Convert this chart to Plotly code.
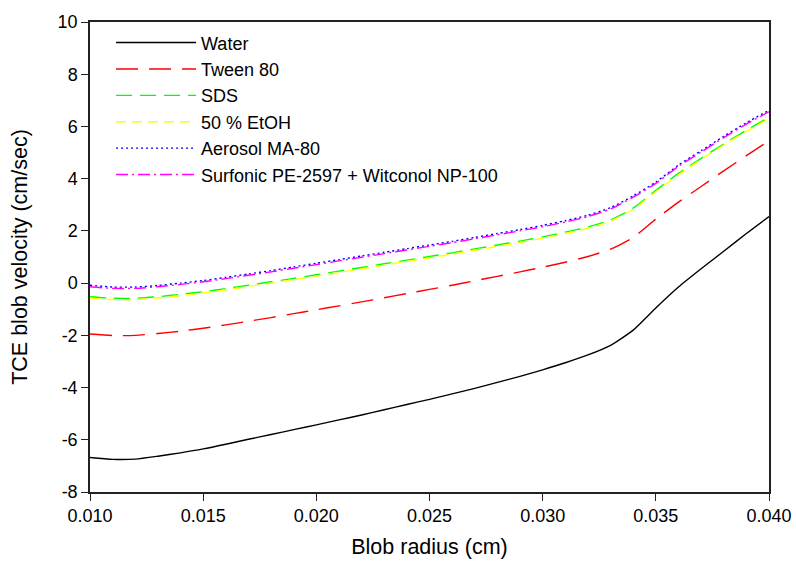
import plotly.graph_objects as go

radius = [0.010, 0.011, 0.012, 0.013, 0.014, 0.015, 0.016, 0.017, 0.018, 0.019,
          0.020, 0.021, 0.022, 0.023, 0.024, 0.025, 0.026, 0.027, 0.028, 0.029,
          0.030, 0.031, 0.032, 0.033, 0.034, 0.035, 0.036, 0.037, 0.038, 0.039, 0.040]

water = [-6.68, -6.75, -6.74, -6.63, -6.50, -6.35, -6.17, -5.98, -5.80, -5.61,
         -5.43, -5.24, -5.05, -4.85, -4.65, -4.45, -4.24, -4.03, -3.80, -3.57,
         -3.32, -3.05, -2.75, -2.38, -1.80, -0.95, -0.15, 0.55, 1.22, 1.90, 2.55]

tween80 = [-1.95, -2.01, -2.00, -1.93, -1.84, -1.73, -1.60, -1.46, -1.32, -1.17,
           -1.02, -0.87, -0.72, -0.56, -0.40, -0.24, -0.08, 0.09, 0.26, 0.43,
           0.61, 0.80, 1.02, 1.30, 1.75, 2.45, 3.10, 3.70, 4.30, 4.88, 5.45]

sds = [-0.52, -0.58, -0.58, -0.52, -0.43, -0.33, -0.21, -0.08, 0.05, 0.18,
       0.32, 0.46, 0.60, 0.74, 0.88, 1.02, 1.16, 1.31, 1.46, 1.61,
       1.77, 1.95, 2.15, 2.42, 2.87, 3.55, 4.20, 4.78, 5.33, 5.85, 6.35]

etoh = [-0.58, -0.63, -0.63, -0.57, -0.48, -0.38, -0.26, -0.13, 0.00, 0.13,
        0.27, 0.41, 0.55, 0.69, 0.83, 0.97, 1.11, 1.26, 1.41, 1.56,
        1.72, 1.90, 2.10, 2.37, 2.82, 3.50, 4.15, 4.74, 5.29, 5.81, 6.30]

aerosol = [-0.08, -0.15, -0.15, -0.09, 0.00, 0.10, 0.22, 0.35, 0.48, 0.62,
           0.76, 0.90, 1.04, 1.18, 1.32, 1.46, 1.60, 1.75, 1.90, 2.05,
           2.21, 2.39, 2.60, 2.89, 3.34, 3.87, 4.52, 5.07, 5.62, 6.14, 6.62]

surfonic = [-0.14, -0.20, -0.20, -0.14, -0.05, 0.05, 0.17, 0.30, 0.43, 0.57,
            0.71, 0.85, 0.99, 1.13, 1.27, 1.41, 1.55, 1.70, 1.85, 2.00,
            2.16, 2.34, 2.55, 2.84, 3.29, 3.82, 4.47, 5.02, 5.57, 6.09, 6.56]

x_tickvals = [0.010, 0.015, 0.020, 0.025, 0.030, 0.035, 0.040]
x_ticktext = ["0.010", "0.015", "0.020", "0.025", "0.030", "0.035", "0.040"]
y_tickvals = [-8, -6, -4, -2, 0, 2, 4, 6, 8, 10]
y_ticktext = ["-8", "-6", "-4", "-2", "0", "2", "4", "6", "8", "10"]

series = [
    ("Water", water, "black", "solid"),
    ("Tween 80", tween80, "red", "22px,11px"),
    ("SDS", sds, "#00ff00", "16px,8px"),
    ("50 % EtOH", etoh, "#ffff00", "10px,6px"),
    ("Aerosol MA-80", aerosol, "blue", "2px,3px"),
    ("Surfonic PE-2597 + Witconol NP-100", surfonic, "magenta", "12px,4px,2px,4px"),
]

fig = go.Figure()
for name, vals, color, dash in series:
    fig.add_trace(go.Scatter(
        x=radius, y=vals, mode="lines", name=name,
        line=dict(color=color, width=1.4, dash=dash, shape="spline", smoothing=0.6),
    ))

font_family = "Liberation Sans, Arial, sans-serif"
fig.update_layout(
    width=796, height=577,
    margin=dict(l=90, r=27, t=14, b=85),
    plot_bgcolor="white", paper_bgcolor="white",
    font=dict(family=font_family, color="black", size=18),
    showlegend=True,
    legend=dict(
        x=0.031, y=0.995, xanchor="left", yanchor="top",
        bgcolor="rgba(0,0,0,0)", borderwidth=0,
        font=dict(size=18, family=font_family), itemwidth=80,
        tracegroupgap=0,
    ),
    xaxis=dict(
        range=[0.0099999, 0.0400001], tickvals=x_tickvals, ticktext=x_ticktext,
        automargin=False,
        showgrid=False, zeroline=False, showline=True, linecolor="#222",
        linewidth=1.5, mirror=True, ticks="outside", ticklen=7, tickcolor="#222",
        title=dict(text="Blob radius (cm)", font=dict(size=21.5), standoff=14),
        tickfont=dict(size=18),
    ),
    yaxis=dict(
        range=[-8, 10], tickvals=y_tickvals, ticktext=y_ticktext,
        showgrid=False, zeroline=False, showline=True, linecolor="#222",
        linewidth=1.5, mirror=True, ticks="outside", ticklen=7, tickcolor="#222",
        title=dict(text="TCE blob velocity (cm/sec)", font=dict(size=21.5), standoff=24),
        tickfont=dict(size=18),
    ),
)

fig.write_html("out.html")
